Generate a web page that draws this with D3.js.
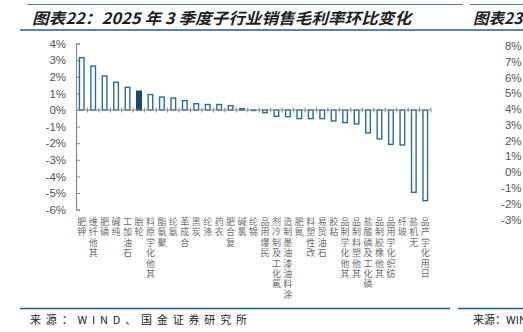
<!DOCTYPE html>
<html>
<head>
<meta charset="utf-8">
<script src="https://cdn.jsdelivr.net/npm/d3@7/dist/d3.min.js"></script>
<style>
  html, body { margin: 0; padding: 0; background: #fff; }
  svg { display: block; }
</style>
</head>
<body>
<svg id="chart" width="523" height="332"></svg>
<script>
// Sub-industry gross margin change, Q3 2025 vs Q2 2025 (percentage points)
const categories = [
  "钾肥", "其他纤维", "磷肥", "纯碱", "石油加工", "轮胎", "其他化学原料", "聚氨酯",
  "氨纶", "合成革", "炭黑", "涤纶", "农药", "复合肥", "氯碱", "锦纶", "民爆用品",
  "氟化工及制冷剂", "涂料油漆油墨制造", "氮肥", "改性塑料", "石油贸易", "粘胶",
  "其他化学制品", "其他塑料制品", "磷化工及磷酸盐", "其他橡胶制品", "纺织化学用品",
  "玻纤", "无机盐", "日用化学产品"
];
const marginChange = [
  3.15, 2.65, 2.05, 1.67, 1.37, 1.13, 0.93, 0.78,
  0.72, 0.57, 0.38, 0.33, 0.33, 0.26, 0.08, -0.03, -0.16,
  -0.38, -0.40, -0.52, -0.52, -0.52, -0.66,
  -0.76, -0.84, -1.38, -1.74, -2.07,
  -2.11, -4.96, -5.46
];
const highlighted = ["轮胎"];
const yTicks = [4, 3, 2, 1, 0, -1, -2, -3, -4, -5, -6];
const rightTicks = [8, 7, 6, 5, 4, 3, 2, 1, 0, -1, -2, -3];

const titleText = "图表22：2025 年 3 季度子行业销售毛利率环比变化";
const nextTitle = "图表23";
const sourceText = "来源：WIND、国金证券研究所";
const nextSource = "来源：WIND";

const svg = d3.select("#chart");
const CJK = "'Noto Sans CJK SC', 'Noto Sans', sans-serif";
const LATIN = "'Liberation Sans', Arial, sans-serif";
const frameBlue = "#2a5b83";

// ---- page frame: rules, titles, source ----
svg.append("line").attr("x1", 27).attr("x2", 463).attr("y1", 4.5).attr("y2", 4.5)
  .attr("stroke", "#5b7f9c").attr("stroke-width", 1);
svg.append("line").attr("x1", 470).attr("x2", 523).attr("y1", 4.5).attr("y2", 4.5)
  .attr("stroke", "#5b7f9c").attr("stroke-width", 1);
svg.append("line").attr("x1", 20).attr("x2", 523).attr("y1", 30).attr("y2", 30)
  .attr("stroke", frameBlue).attr("stroke-width", 1.6);
svg.append("line").attr("x1", 20).attr("x2", 450).attr("y1", 308.5).attr("y2", 308.5)
  .attr("stroke", frameBlue).attr("stroke-width", 1.6);
svg.append("line").attr("x1", 458).attr("x2", 523).attr("y1", 308.5).attr("y2", 308.5)
  .attr("stroke", frameBlue).attr("stroke-width", 1.6);

svg.append("text").attr("x", 32).attr("y", 24)
  .attr("font-family", CJK).attr("font-size", 15.5).attr("font-weight", 700)
  .attr("font-style", "italic").attr("fill", "#1e1e1e")
  .attr("textLength", 379).attr("lengthAdjust", "spacingAndGlyphs")
  .text(titleText);
svg.append("text").attr("x", 473).attr("y", 24)
  .attr("font-family", CJK).attr("font-size", 15.5).attr("font-weight", 700)
  .attr("font-style", "italic").attr("fill", "#1e1e1e")
  .text(nextTitle);

svg.append("text").attr("x", 30).attr("y", 324)
  .attr("font-family", CJK).attr("font-size", 11).attr("fill", "#222")
  .attr("textLength", 217).attr("lengthAdjust", "spacing")
  .text(sourceText);
svg.append("text").attr("x", 473).attr("y", 324)
  .attr("font-family", CJK).attr("font-size", 11).attr("fill", "#222")
  .text(nextSource);

// ---- main chart ----
const plot = { left: 76, right: 431, top: 43.6, bottom: 209.6 };

const x = d3.scaleBand().domain(categories).range([plot.left, plot.right]).paddingInner(0).paddingOuter(0);
const y = d3.scaleLinear().domain([-6, 4]).range([plot.bottom, plot.top]);

const data = categories.map((c, i) => ({ name: c, value: marginChange[i] }));

// y axis
const yAxis = d3.axisLeft(y).tickValues(yTicks).tickFormat(d => d + "%").tickSize(-4).tickPadding(10);
const gy = svg.append("g").attr("transform", `translate(${plot.left},0)`).call(yAxis);
gy.select(".domain").attr("stroke", "#8a8a8a").attr("stroke-width", 1.2);
gy.selectAll(".tick line").attr("stroke", "#8a8a8a").attr("stroke-width", 1);
gy.selectAll(".tick text").attr("font-family", LATIN).attr("font-size", 11.5).attr("fill", "#555");

// bars
svg.append("g").selectAll("rect").data(data).join("rect")
  .attr("x", d => x(d.name) + x.bandwidth() / 2 - 2.3)
  .attr("width", 4.6)
  .attr("y", d => y(Math.max(0, d.value)))
  .attr("height", d => Math.abs(y(d.value) - y(0)))
  .attr("fill", d => highlighted.includes(d.name) ? "#18486f" : "#fff")
  .attr("stroke", d => highlighted.includes(d.name) ? "#18486f" : "#2d6c96")
  .attr("stroke-width", 1.4);

// x axis at zero with boundary ticks crossing the line
const gx = svg.append("g");
gx.append("line").attr("x1", plot.left).attr("x2", plot.right)
  .attr("y1", y(0)).attr("y2", y(0)).attr("stroke", "#8a8a8a").attr("stroke-width", 1.2);
const bounds = categories.map(c => x(c) + x.bandwidth());
gx.selectAll("line.bt").data(bounds).join("line").attr("class", "bt")
  .attr("x1", d => d).attr("x2", d => d)
  .attr("y1", y(0) - 2.5).attr("y2", y(0) + 2.5)
  .attr("stroke", "#8a8a8a").attr("stroke-width", 1);

// category labels: vertical text with upright glyphs, reading upward,
// top-aligned below the plot (each glyph placed at its own inline position)
const step = 10.4;
const labelTop = 217;
svg.append("g").selectAll("text").data(data).join("text")
  .attr("x", d => x(d.name) + x.bandwidth() / 2)
  .attr("y", d => {
    const n = Array.from(d.name).length;
    return Array.from(d.name).map((ch, k) => (labelTop + (n - 1 - k) * step).toFixed(1)).join(" ");
  })
  .style("writing-mode", "vertical-rl")
  .style("text-orientation", "upright")
  .attr("font-family", CJK).attr("font-size", 9).attr("fill", "#6e6e6e")
  .text(d => d.name);

// ---- neighbouring chart's axis labels at the right edge ----
const yr = d3.scaleLinear().domain([-3, 8]).range([219.5, 46]);
svg.append("g").selectAll("text").data(rightTicks).join("text")
  .attr("x", 521.5).attr("y", d => yr(d)).attr("dy", "0.35em")
  .attr("text-anchor", "end")
  .attr("font-family", LATIN).attr("font-size", 11.5).attr("fill", "#555")
  .text(d => d + "%");
</script>
</body>
</html>
